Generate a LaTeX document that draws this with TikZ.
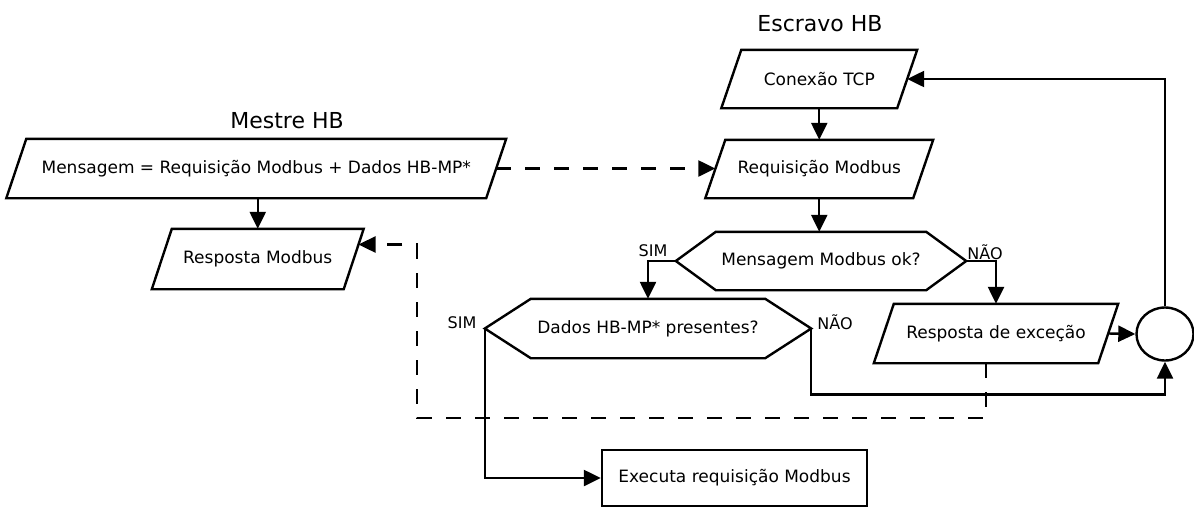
\documentclass[tikz,border=0pt]{standalone}
\usepackage{fontspec}
\setmainfont{DejaVu Sans}
\usetikzlibrary{shapes.geometric,arrows.meta,calc}

% outline of a data (parallelogram) box around the body of node #1
\newcommand\drawdatabox[1]{%
  \draw ([xshift=10pt]#1.north west) -- ([xshift=10pt]#1.north east)
    -- ([xshift=-10pt]#1.south east) -- ([xshift=-10pt]#1.south west) -- cycle;}

\begin{document}
\begin{tikzpicture}[x=1pt,y=-1pt,
  line width=2.4pt,
  txt/.style={font=\fontsize{17}{20}\selectfont},
  body/.style={rectangle, inner sep=0pt, txt},
  procbox/.style={rectangle, draw, minimum height=56pt, inner sep=0pt, txt},
  joinpt/.style={ellipse, draw, inner sep=0pt, minimum width=57pt, minimum height=53pt},
  title/.style={font=\fontsize{22}{26}\selectfont},
  lbl/.style={font=\fontsize{16}{18}\selectfont},
  arr/.style={-{Triangle[length=17pt,width=16pt]}},
  msgflow/.style={arr, dash pattern=on 15pt off 14pt}
]
\useasboundingbox (0,0) rectangle (1194,507);

% column titles
\node[title] (tm) at (287,121) {Mestre HB};
\node[title] (ts) at (820,24) {Escravo HB};

% master side
\node[body, minimum width=477.5pt, minimum height=57pt] (msg) at (256.25,168.5) {Mensagem = Requisição Modbus + Dados HB-MP*};
\drawdatabox{msg}
\node[body, minimum width=189.5pt, minimum height=58pt] (rm) at (257.75,259) {Resposta Modbus};
\drawdatabox{rm}

% slave side
\node[body, minimum width=173.5pt, minimum height=56pt] (tcp) at (819.25,79) {Conexão TCP};
\drawdatabox{tcp}
\node[body, minimum width=205.5pt, minimum height=56pt] (req) at (819.25,169) {Requisição Modbus};
\drawdatabox{req}
\node[body, minimum width=222pt, minimum height=57pt] (exc) at (996,333.5) {Resposta de exceção};
\drawdatabox{exc}
\node[procbox, minimum width=265pt] (exe) at (734.5,478) {Executa requisição Modbus};
\node[joinpt] (jn) at (1165,334) {};

% decision: message ok?
\node[body, minimum width=208pt, minimum height=56pt] (ok) at (821,261) {Mensagem Modbus ok?};
\draw (ok.north west) -- (ok.north east) -- ($(ok.east)+(40,0)$) coordinate (okE)
  -- (ok.south east) -- (ok.south west) -- ($(ok.west)+(-40,0)$) coordinate (okW) -- cycle;

% decision: HB-MP data present?
\node[body, minimum width=232pt, minimum height=57pt] (dd) at (648,328.5) {Dados HB-MP* presentes?};
\draw (dd.north west) -- (dd.north east) -- ($(dd.east)+(46,0)$) coordinate (ddE)
  -- (dd.south east) -- (dd.south west) -- ($(dd.west)+(-46,0)$) coordinate (ddW) -- cycle;

% branch labels
\node[lbl] (s1) at (653,251) {SIM};
\node[lbl] (n1) at (985,252) {NÃO};
\node[lbl] (s2) at (462,323) {SIM};
\node[lbl] (n2) at (835,322) {NÃO};

% helper points for the response path
\coordinate (rmIn) at ($([xshift=10pt]rm.north east)!0.26!([xshift=-10pt]rm.south east)$);
\coordinate (excOut) at ([xshift=-10pt]exc.south);
\coordinate (dl) at (417,418);

% connectors
\draw[arr] (msg.south -| rm.north) -- (rm.north);
\draw[msgflow] (msg.east) -- (msg.east -| req.west);
\draw[arr] (tcp.south) -- (req.north);
\draw[arr] (req.south) -- (req.south |- ok.north);
\draw[arr] (okW) -| (dd.north);
\draw[arr] (okE) -| (exc.north);
\draw[arr] (ddW) |- (exe.west);
\draw[arr] (ddE) -- ++(0,66) -| (jn.south);
\draw[arr] (exc.east) -- (jn.west);
\draw[arr] (jn.north) |- (tcp.east);
\draw[msgflow] (excOut) |- (dl) |- (rmIn);
\end{tikzpicture}
\end{document}
